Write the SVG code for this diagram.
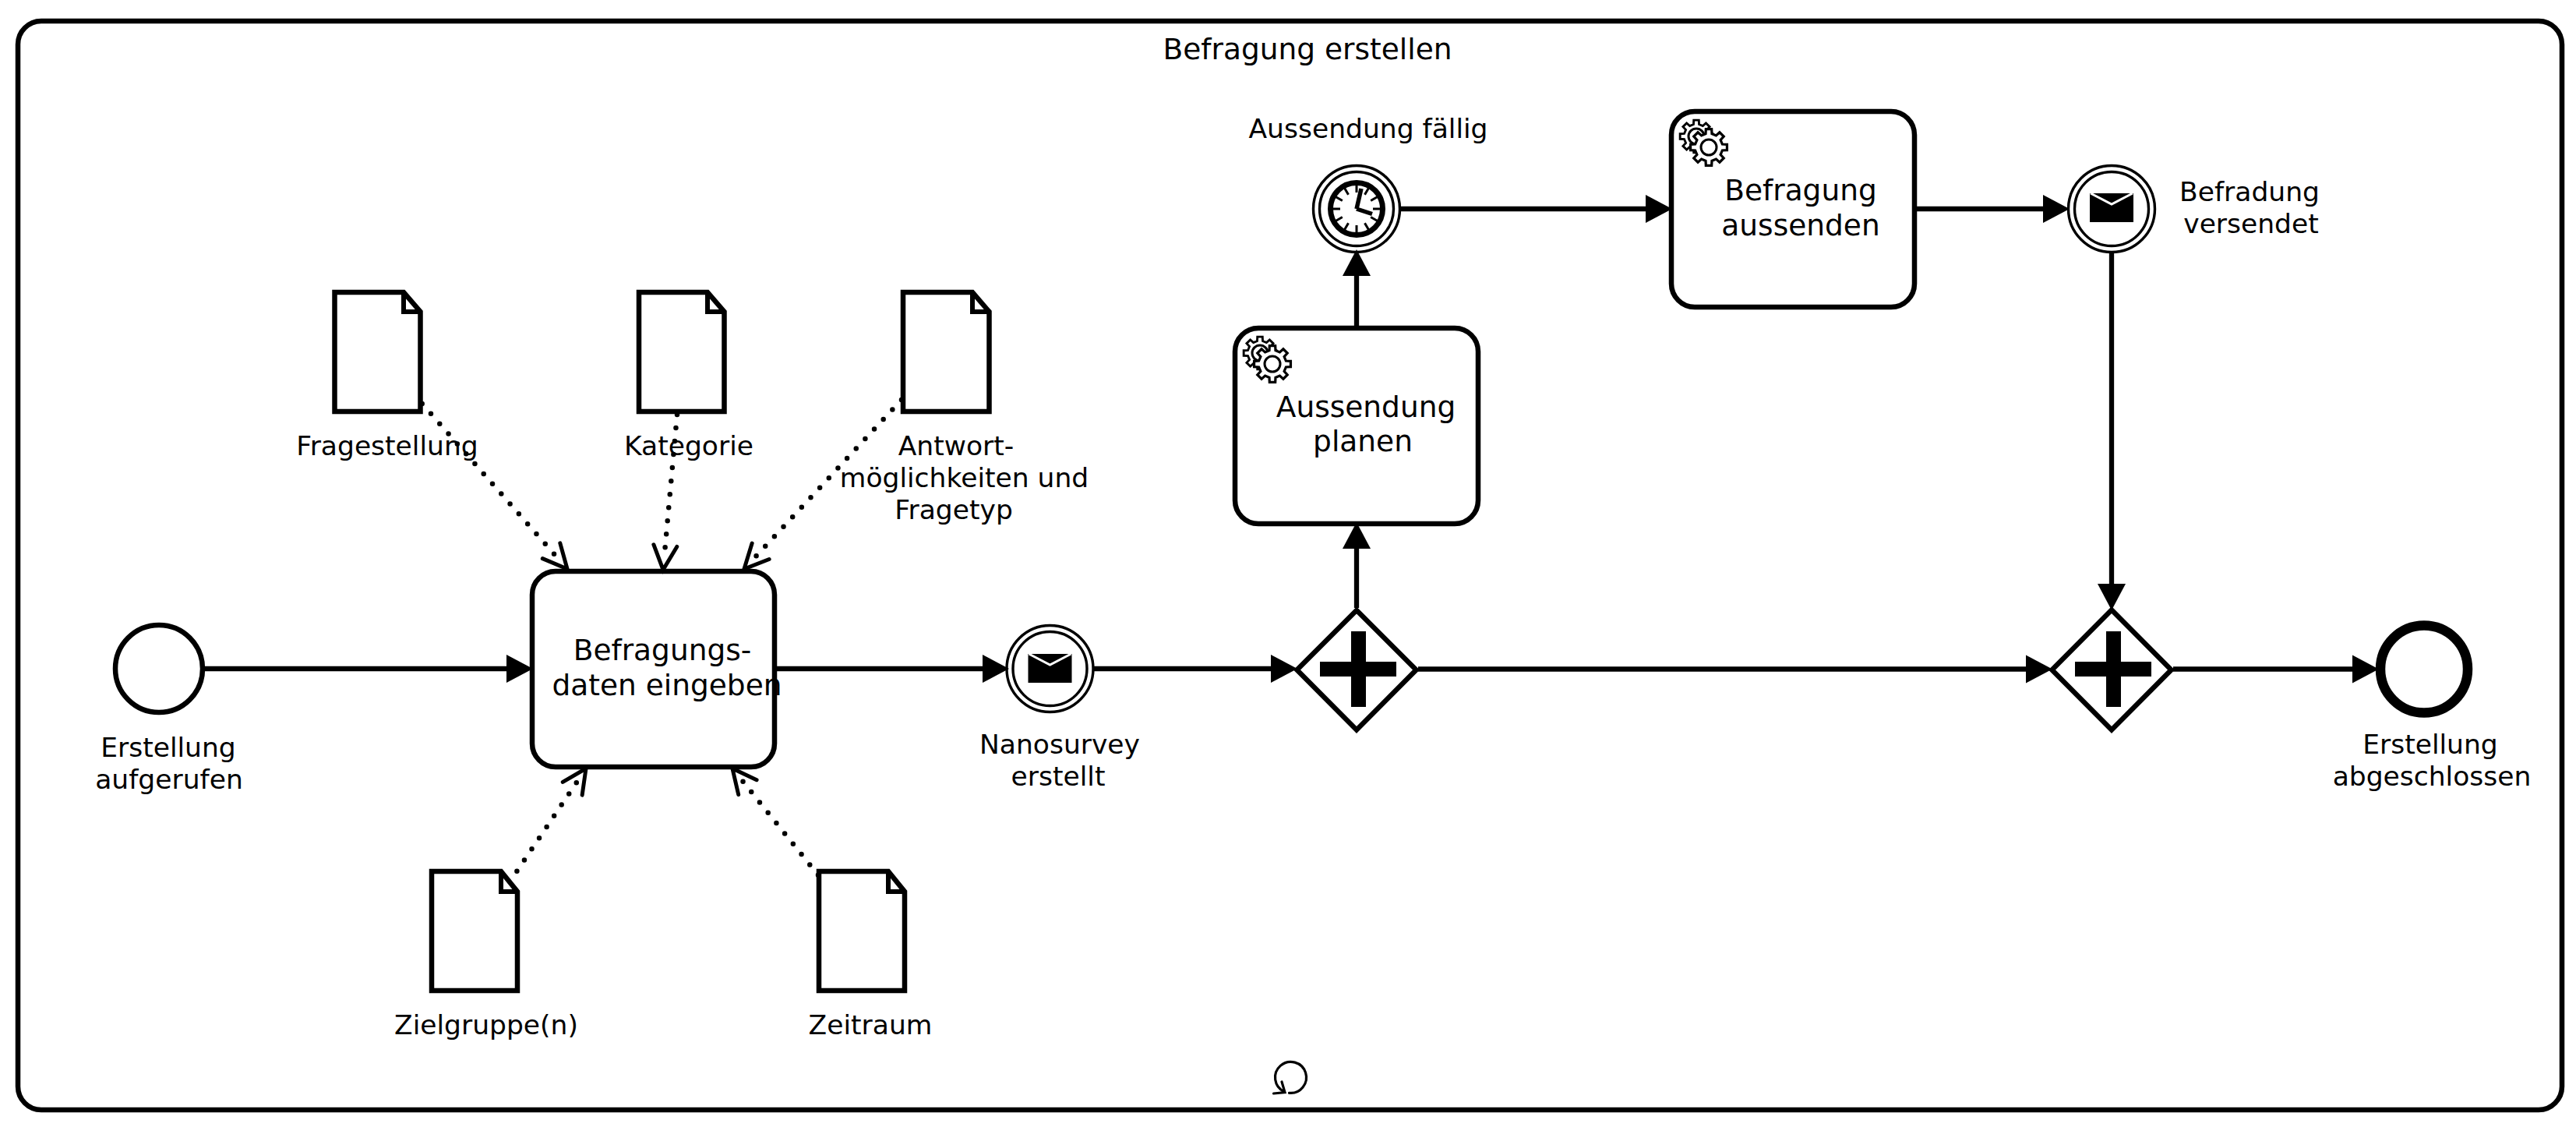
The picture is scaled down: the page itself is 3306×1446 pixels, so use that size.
<svg xmlns="http://www.w3.org/2000/svg" xmlns:xlink="http://www.w3.org/1999/xlink" width="3306" height="1446" viewBox="0 0 3306 1446">
<style>
text{font-family:"DejaVu Sans",sans-serif;fill:#000;text-anchor:middle}
.lb{font-size:34.5px}
.tt{font-size:37.5px}
.shape{fill:#fff;stroke:#000;stroke-width:6.5}
.ring{fill:#fff;stroke:#000;stroke-width:3.4}
.flow{fill:none;stroke:#000;stroke-width:6.3;marker-end:url(#arrow)}
.assoc{fill:none;stroke:#000;stroke-width:6.5;stroke-linecap:round;stroke-dasharray:0 17.1;marker-end:url(#open)}
.gearbody{fill:#fff;stroke:#000;stroke-width:3}
</style>
<defs>
<marker id="arrow" markerUnits="userSpaceOnUse" markerWidth="36" markerHeight="36" refX="21" refY="18" orient="auto" overflow="visible"><path d="M0 0L34 18L0 36Z" fill="#000"/></marker>
<marker id="open" markerUnits="userSpaceOnUse" markerWidth="40" markerHeight="36" refX="20" refY="16" orient="auto" overflow="visible"><path d="M1 1L32 16L1 31" fill="none" stroke="#000" stroke-width="5" stroke-linecap="round"/></marker>
<path id="gearshape" d="M21.7 3.4L16.1 3.7L14 8.7L17.8 12.9L12.9 17.8L8.7 14L3.7 16.1L3.4 21.7L-3.4 21.7L-3.7 16.1L-8.7 14L-12.9 17.8L-17.8 12.9L-14 8.7L-16.1 3.7L-21.7 3.4L-21.7 -3.4L-16.1 -3.7L-14 -8.7L-17.8 -12.9L-12.9 -17.8L-8.7 -14L-3.7 -16.1L-3.4 -21.7L3.4 -21.7L3.7 -16.1L8.7 -14L12.9 -17.8L17.8 -12.9L14 -8.7L16.1 -3.7L21.7 -3.4Z"/>
<g id="gears">
<use xlink:href="#gearshape" href="#gearshape" class="gearbody" transform="translate(32 32) scale(.96)"/>
<circle cx="32" cy="32" r="10" class="gearbody"/>
<use xlink:href="#gearshape" href="#gearshape" class="gearbody" transform="translate(48 46) scale(1.08)"/>
<circle cx="48" cy="46" r="10" class="gearbody"/>
</g>
<g id="envelope">
<rect x="-28" y="-19" width="56" height="37" fill="#000"/>
<path d="M-27 -19L0 -5L27 -19" fill="none" stroke="#fff" stroke-width="3"/>
</g>
<g id="plus"><path d="M-47 -10H-7V-49H12V-10H51V9H12V48H-7V9H-47Z" fill="#000"/></g>
</defs>
<rect width="3306" height="1446" fill="#fff"/>
<g id="pool">
<rect x="23" y="27" width="3265" height="1397" rx="30" ry="30" fill="#fff" stroke="#000" stroke-width="6.5"/>
<text class="tt" x="1678" y="76">Befragung erstellen</text>
<path d="M1654.5 1402.3A20 20 0 1 0 1648 1400.5M1634.5 1403L1649 1401.5L1645 1388" fill="none" stroke="#000" stroke-width="3.2" stroke-linecap="round"/>
</g>
<g id="start-event"><circle cx="204" cy="858" r="56" class="shape"/><text class="lb" x="216" y="971">Erstellung</text><text class="lb" x="217" y="1012">aufgerufen</text></g>
<g id="task-eingeben"><rect x="683" y="733" width="311" height="251" rx="30" class="shape"/><text class="tt" x="850" y="847">Befragungs-</text><text class="tt" x="856" y="892">daten eingeben</text></g>
<g id="event-nanosurvey"><circle cx="1347.5" cy="858" r="55.5" class="ring"/><circle cx="1347.5" cy="858" r="47.5" class="ring"/><use xlink:href="#envelope" href="#envelope" x="1347.5" y="858"/><text class="lb" x="1360" y="967">Nanosurvey</text><text class="lb" x="1358" y="1008">erstellt</text></g>
<g id="gateway-split"><path d="M1741 783L1817.500 859.500L1741 936.500L1664.500 859.500Z" class="shape"/><use xlink:href="#plus" href="#plus" x="1741" y="859"/></g>
<g id="task-planen"><rect x="1585" y="421" width="312" height="251" rx="30" class="shape"/><use xlink:href="#gears" href="#gears" x="1585" y="421"/><text class="tt" x="1753" y="535">Aussendung</text><text class="tt" x="1749" y="579">planen</text></g>
<g id="event-timer"><circle cx="1741" cy="268" r="55.5" class="ring"/><circle cx="1741" cy="268" r="47.5" class="ring"/><circle cx="1741" cy="268" r="33.5" fill="#fff" stroke="#000" stroke-width="7"/>
<path d="M1741 237V247M1741 289V299M1710 268H1720M1762 268H1772M1756.500 241.200L1751.500 249.800M1730.500 286.200L1725.500 294.800M1767.800 252.500L1759.200 257.500M1722.800 278.500L1714.200 283.500M1767.800 283.500L1759.200 278.500M1722.800 257.500L1714.200 252.500M1756.500 294.800L1751.500 286.200M1730.500 249.800L1725.500 241.200" stroke="#000" stroke-width="3" fill="none"/>
<path d="M1741 268L1747 242M1741 268L1761 274.500" stroke="#000" stroke-width="5.500" fill="none"/>
<text class="lb" x="1756" y="177">Aussendung fällig</text></g>
<g id="task-aussenden"><rect x="2145" y="143" width="312" height="251" rx="30" class="shape"/><use xlink:href="#gears" href="#gears" x="2145" y="143"/><text class="tt" x="2311" y="257">Befragung</text><text class="tt" x="2311" y="302">aussenden</text></g>
<g id="event-versendet"><circle cx="2710" cy="268" r="55.5" class="ring"/><circle cx="2710" cy="268" r="47.5" class="ring"/><use xlink:href="#envelope" href="#envelope" x="2710" y="267"/><text class="lb" x="2887" y="258">Befradung</text><text class="lb" x="2889" y="299">versendet</text></g>
<g id="gateway-join"><path d="M2710 782.500L2786.500 859.500L2710 936.500L2633.500 859.500Z" class="shape"/><use xlink:href="#plus" href="#plus" x="2710" y="859"/></g>
<g id="end-event"><circle cx="3111" cy="858.500" r="56" fill="#fff" stroke="#000" stroke-width="12.500"/><text class="lb" x="3119" y="967">Erstellung</text><text class="lb" x="3121" y="1008">abgeschlossen</text></g>
<g id="doc-fragestellung"><path d="M429.500 375H518L539.500 400V528H429.500Z" class="shape"/><path d="M518 375V400H539.500" fill="none" stroke="#000" stroke-width="6"/><text class="lb" x="497" y="584">Fragestellung</text></g>
<g id="doc-kategorie"><path d="M820 375H908L929.500 400V528H820Z" class="shape"/><path d="M908 375V400H929.500" fill="none" stroke="#000" stroke-width="6"/><text class="lb" x="884" y="584">Kategorie</text></g>
<g id="doc-antwort"><path d="M1159 375H1248L1269.500 400V528H1159Z" class="shape"/><path d="M1248 375V400H1269.500" fill="none" stroke="#000" stroke-width="6"/><text class="lb" x="1227" y="584">Antwort-</text><text class="lb" x="1237.500" y="625">möglichkeiten und</text><text class="lb" x="1224" y="666">Fragetyp</text></g>
<g id="doc-zielgruppe"><path d="M554 1118H643L664 1144V1271H554Z" class="shape"/><path d="M643 1118V1144H664" fill="none" stroke="#000" stroke-width="6"/><text class="lb" x="624" y="1327">Zielgruppe(n)</text></g>
<g id="doc-zeitraum"><path d="M1051 1118H1140L1161 1144V1271H1051Z" class="shape"/><path d="M1140 1118V1144H1161" fill="none" stroke="#000" stroke-width="6"/><text class="lb" x="1117" y="1327">Zeitraum</text></g>
<g id="connectors">
<path class="flow" d="M262 858H671"/>
<path class="flow" d="M995 858H1282"/>
<path class="flow" d="M1404 858H1652"/>
<path class="flow" d="M1820 858.500H2621"/>
<path class="flow" d="M2789 858.500H3040"/>
<path class="flow" d="M1741 780V683"/>
<path class="flow" d="M1741 418V333"/>
<path class="flow" d="M1798 268H2133"/>
<path class="flow" d="M2460 268H2643"/>
<path class="flow" d="M2710 325V770"/>
<path class="assoc" d="M541.700 518L720.100 721"/>
<path class="assoc" d="M869 532L852.100 719"/>
<path class="assoc" d="M1157 513L963.200 721.200"/>
<path class="assoc" d="M663.400 1117.700L745.300 996"/>
<path class="assoc" d="M1050 1122.700L947.500 995.300"/>
</g>
</svg>
